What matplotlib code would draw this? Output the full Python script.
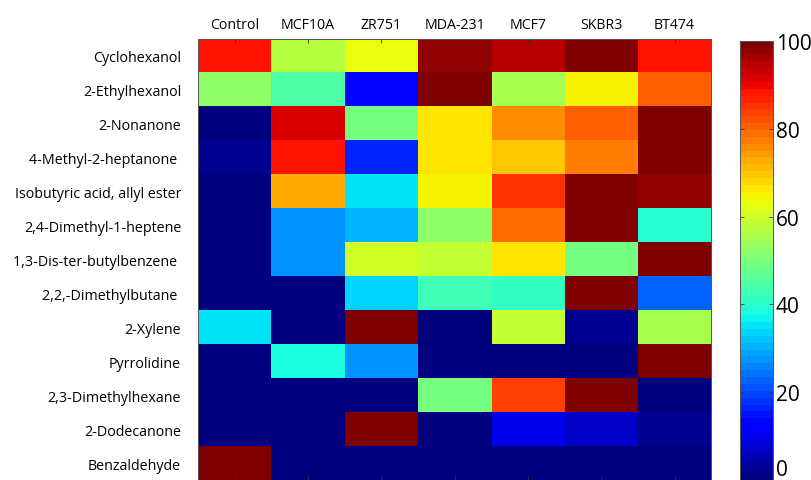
import matplotlib
matplotlib.use("Agg")
import matplotlib.pyplot as plt
import numpy as np

compounds = [
    "Cyclohexanol",
    "2-Ethylhexanol",
    "2-Nonanone",
    "4-Methyl-2-heptanone ",
    "Isobutyric acid, allyl ester",
    "2,4-Dimethyl-1-heptene",
    "1,3-Dis-ter-butylbenzene ",
    "2,2,-Dimethylbutane ",
    "2-Xylene",
    "Pyrrolidine",
    "2,3-Dimethylhexane",
    "2-Dodecanone",
    "Benzaldehyde",
]
cell_lines = ["Control", "MCF10A", "ZR751", "MDA-231", "MCF7", "SKBR3", "BT474"]

# relative signal (%) per compound, one list per row
cyclohexanol = [89, 57, 63, 98, 95, 100, 89]
ethylhexanol = [52, 45, 12, 100, 55, 65, 80]
nonanone = [0, 92, 49, 66, 75, 81, 100]
methylheptanone = [2, 88, 17, 66, 70, 77, 100]
isobutyric_ester = [0, 72, 35, 65, 85, 100, 97]
dimethylheptene = [0, 27, 31, 52, 79, 100, 40]
butylbenzene = [0, 27, 60, 58, 66, 49, 100]
dimethylbutane = [0, 0, 34, 43, 41, 100, 22]
xylene = [35, 0, 100, 0, 59, 3, 56]
pyrrolidine = [0, 38, 27, 0, 0, 0, 100]
dimethylhexane = [0, 0, 0, 49, 84, 100, 1]
dodecanone = [0, 0, 100, 0, 10, 7, 3]
benzaldehyde = [100, 0, 0, 0, 0, 0, 0]

values = np.array([
    cyclohexanol, ethylhexanol, nonanone, methylheptanone, isobutyric_ester,
    dimethylheptene, butylbenzene, dimethylbutane, xylene, pyrrolidine,
    dimethylhexane, dodecanone, benzaldehyde,
])

plt.rcParams["font.family"] = ["Open Sans", "DejaVu Sans"]

fig = plt.figure(figsize=(8.11, 4.81), dpi=100)
ax = fig.add_axes([0.244, 0.0, 0.633, 0.917])
cax = fig.add_axes([0.912, 0.0, 0.041, 0.913])

cmap = plt.get_cmap("jet", 64)
im = ax.imshow(values, cmap=cmap, vmin=0, vmax=100, aspect="auto", interpolation="nearest")

ax.set_xticks(range(len(cell_lines)), labels=cell_lines, fontsize=10.2)
ax.xaxis.tick_top()
ax.tick_params(axis="x", which="major", direction="in", length=3, width=0.6,
               top=True, bottom=True, pad=5, color="#333333")
ax.set_yticks(range(len(compounds)), labels=compounds, fontsize=10.3)
ax.tick_params(axis="y", which="major", length=0, pad=12)
# tick marks only on every other row
ax.set_yticks(np.arange(1, len(compounds), 2), minor=True)
ax.tick_params(axis="y", which="minor", direction="in", length=3, width=0.6,
               left=True, right=True, color="#333333")
for s in ax.spines.values():
    s.set_color("#555555")
    s.set_linewidth(0.7)

cb = fig.colorbar(im, cax=cax, ticks=[0, 20, 40, 60, 80, 100])
cb.ax.tick_params(labelsize=15, direction="in", length=3, width=0.6,
                  left=True, right=True, pad=2, color="#333333")
cb.ax.get_yticklabels()[0].set_verticalalignment("bottom")
cb.outline.set_edgecolor("#555555")
cb.outline.set_linewidth(0.7)

fig.savefig("out.png", dpi=100)
